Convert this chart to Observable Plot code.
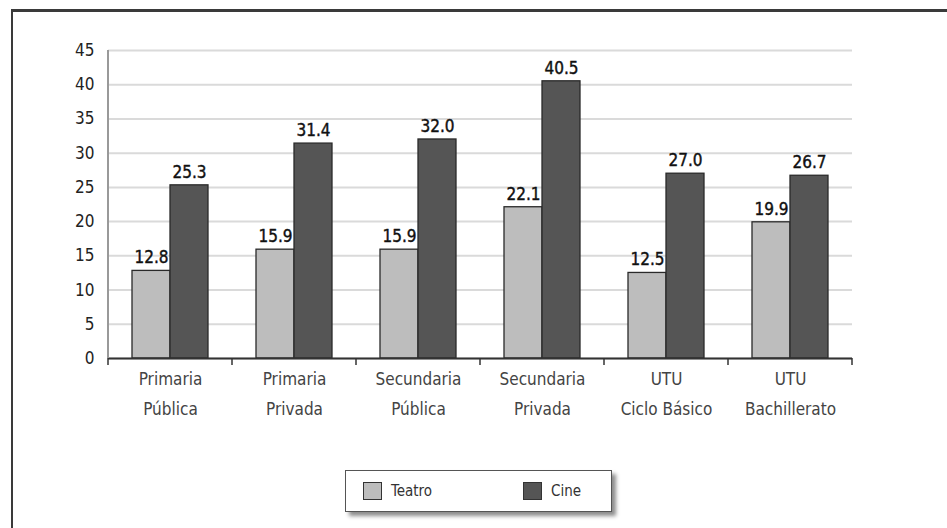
<!DOCTYPE html>
<html>
<head>
<meta charset="utf-8">
<script src="https://cdn.jsdelivr.net/npm/d3@7"></script>
<script src="https://cdn.jsdelivr.net/npm/@observablehq/plot@0.6"></script>
<style>
  html, body { margin: 0; padding: 0; background: #fff; }
  body { width: 947px; height: 528px; position: relative; overflow: hidden;
         font-family: "DejaVu Sans Condensed", "DejaVu Sans", sans-serif; font-stretch: condensed; }
  #frame { position: absolute; left: 11px; top: 9px; width: 1000px; height: 600px;
           border-left: 2px solid #3a3a3a; border-top: 3px solid #3a3a3a; box-sizing: border-box; }
  #chart { position: absolute; left: 0; top: 0; }
  #chart svg text { font-stretch: condensed; }
  #legend { position: absolute; left: 345px; top: 470px; width: 267px; height: 42px;
            box-sizing: border-box; border: 1.5px solid #555; background: #fff;
            box-shadow: 4px 4px 4px rgba(0,0,0,0.45); font-size: 15px; color: #333; }
  .item { position: absolute; top: 11px; display: flex; align-items: center; }
  .sw { width: 19px; height: 18px; box-sizing: border-box; border: 1.5px solid #333; margin-right: 9px; }
</style>
</head>
<body>
<div id="frame"></div>
<div id="chart"></div>
<div id="legend"></div>
<script>
// School levels (two-line labels) and the two activities compared
const categories = [
  "Primaria\nPública",
  "Primaria\nPrivada",
  "Secundaria\nPública",
  "Secundaria\nPrivada",
  "UTU\nCiclo Básico",
  "UTU\nBachillerato"
];
const series = ["Teatro", "Cine"];
const teatro = [12.8, 15.9, 15.9, 22.1, 12.5, 19.9];
const cine = [25.3, 31.4, 32.0, 40.5, 27.0, 26.7];
const yTicks = [0, 5, 10, 15, 20, 25, 30, 35, 40, 45];
const colors = ["#bdbdbd", "#555555"];

const rows = categories.flatMap((cat, i) => [
  {cat, serie: series[0], value: teatro[i]},
  {cat, serie: series[1], value: cine[i]}
]);

const FONT = '"DejaVu Sans Condensed", "DejaVu Sans", sans-serif';

const chart = Plot.plot({
  width: 947,
  height: 440,
  marginLeft: 107,
  marginRight: 95,
  marginTop: 50,
  marginBottom: 82,
  style: {fontFamily: FONT, fontSize: "14px", color: "#333", background: "transparent"},
  fx: {domain: categories, padding: 0, label: null},
  x: {domain: series, paddingInner: 0, paddingOuter: 0.63, axis: null},
  y: {domain: [0, 45], label: null},
  color: {domain: series, range: colors},
  marks: [
    Plot.gridY({ticks: yTicks, stroke: "#dadada", strokeOpacity: 1, strokeWidth: 2}),
    Plot.axisY({ticks: yTicks, tickSize: 0, tickPadding: 14, label: null, fontSize: 17, fill: "#222"}),
    Plot.barY(rows, {fx: "cat", x: "serie", y: "value", fill: "serie", stroke: "#2a2a2a", strokeWidth: 1.3}),
    Plot.ruleY([0], {stroke: "#333", strokeWidth: 2}),
    Plot.text(rows, {fx: "cat", x: "serie", y: "value", text: d => d.value.toFixed(1),
      dy: -13, fontSize: 17, fill: "#111", stroke: "#111", strokeWidth: 0.4}),
    Plot.axisFx({anchor: "bottom", tickSize: 0, tickPadding: 5, lineHeight: 1.76,
      fontSize: 17, fill: "#444", label: null})
  ]
});

// y axis line and the small ticks marking each group boundary on the baseline
const svg = d3.select(chart);
const fx = chart.scale("fx");
const y = chart.scale("y");
const left = fx.apply(categories[0]);
const y0 = y.apply(0);
svg.append("line")
  .attr("x1", left).attr("x2", left)
  .attr("y1", y.apply(45)).attr("y2", y0)
  .attr("stroke", "#999").attr("stroke-width", 2);
const bounds = categories.map(c => fx.apply(c)).concat(fx.apply(categories[categories.length - 1]) + fx.bandwidth);
svg.append("g").selectAll("line").data(bounds).join("line")
  .attr("x1", d => d).attr("x2", d => d)
  .attr("y1", y0).attr("y2", y0 + 7)
  .attr("stroke", "#333").attr("stroke-width", 1.5);

document.getElementById("chart").append(chart);

// legend
const legend = d3.select("#legend");
const offsets = [17, 177];
series.forEach((s, i) => {
  const item = legend.append("div").attr("class", "item").style("left", offsets[i] + "px");
  item.append("div").attr("class", "sw").style("background", colors[i]);
  item.append("span").text(s);
});
</script>
</body>
</html>
